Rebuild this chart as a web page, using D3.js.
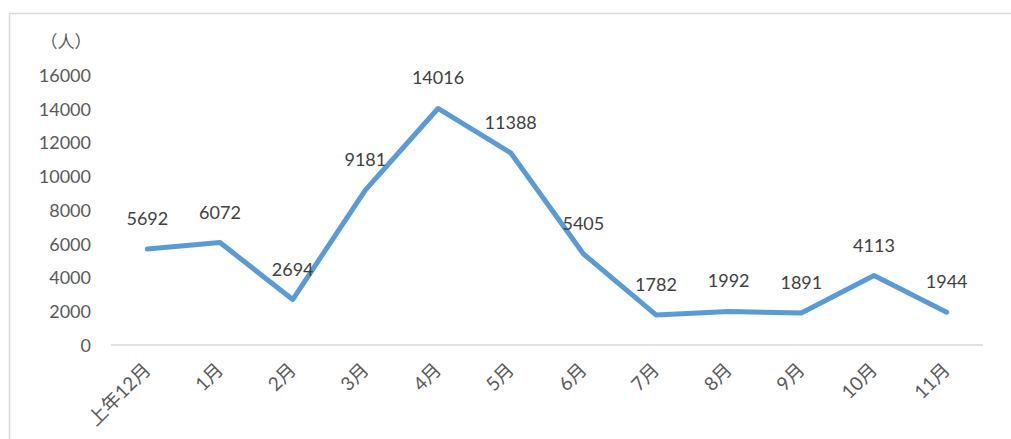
<!DOCTYPE html>
<html><head><meta charset="utf-8">
<script src="https://cdn.jsdelivr.net/npm/d3@7"></script>
<style>body{margin:0;background:#fff}svg{display:block}</style>
</head><body>
<svg id="c" width="1011" height="439"></svg>
<script>
const categories = ["上年12月","1月","2月","3月","4月","5月","6月","7月","8月","9月","10月","11月"];
const values = [5692,6072,2694,9181,14016,11388,5405,1782,1992,1891,4113,1944];
const yTicks = [0,2000,4000,6000,8000,10000,12000,14000,16000];
const unitLabel = "（人）";

const svg = d3.select("#c");
const font = "Lato, 'Noto Sans CJK SC', sans-serif";
svg.append("rect").attr("x",9.5).attr("y",13.5).attr("width",1010).attr("height",440)
  .attr("fill","none").attr("stroke","#d9d9d9").attr("stroke-width",1.5);

const x = d3.scalePoint().domain(categories).range([111,983]).padding(0.5);
const y = d3.scaleLinear().domain([0,16000]).range([345,75]);

// baseline
svg.append("line").attr("x1",111).attr("x2",983).attr("y1",y(0)).attr("y2",y(0))
  .attr("stroke","#d9d9d9").attr("stroke-width",1.5);

// y axis
const yAxis = d3.axisLeft(y).tickValues(yTicks).tickSize(0).tickPadding(0).tickFormat(d3.format("d"));
const yg = svg.append("g").attr("transform","translate(91,0)").call(yAxis);
yg.select(".domain").remove();
yg.selectAll("text").attr("font-family",font).attr("font-size",18).attr("fill","#595959").attr("dy","0.35em");

svg.append("text").attr("x",66).attr("y",48).attr("text-anchor","middle")
  .attr("font-family","'Noto Sans CJK SC', sans-serif").attr("font-size",17).attr("fill","#595959").text(unitLabel);

// x axis labels
const xAxis = d3.axisBottom(x).tickSize(0).tickPadding(0);
const xg = svg.append("g").attr("transform","translate(0,"+y(0)+")").call(xAxis);
xg.select(".domain").remove();
xg.selectAll("text").attr("font-family",font).attr("font-size",19).attr("fill","#595959")
  .attr("text-anchor","end").attr("dy",0).attr("y",0)
  .attr("transform","translate(4,26) rotate(-45)");

// line
const line = d3.line().x((d,i)=>x(categories[i])).y(d=>y(d));
svg.append("path").datum(values).attr("d",line).attr("fill","none")
  .attr("stroke","#5b9bd5").attr("stroke-width",5).attr("stroke-linejoin","round").attr("stroke-linecap","round");

// data labels
svg.append("g").selectAll("text").data(values).join("text")
  .attr("x",(d,i)=>x(categories[i])).attr("y",d=>y(d)-24)
  .attr("text-anchor","middle").attr("font-family",font).attr("font-size",18).attr("fill","#404040")
  .text(d=>d);
</script>
</body></html>
